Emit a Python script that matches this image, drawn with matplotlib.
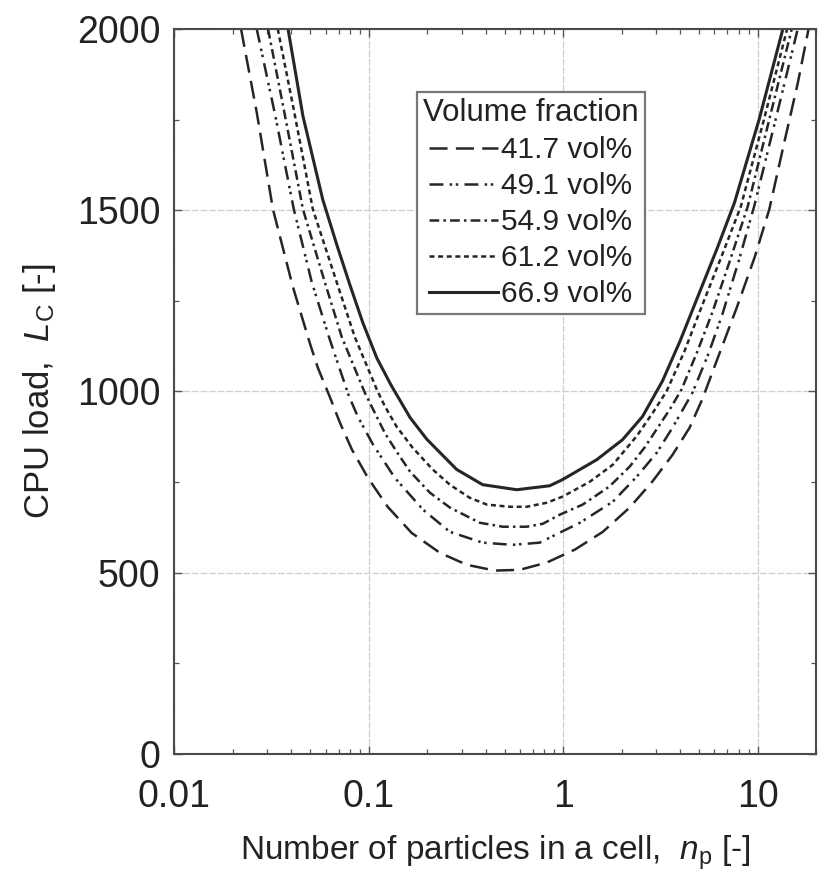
import matplotlib
matplotlib.use("Agg")
import matplotlib.pyplot as plt
from matplotlib.ticker import LogLocator, MultipleLocator, FixedLocator

plt.rcParams['font.family'] = ['Liberation Sans', 'DejaVu Sans']
plt.rcParams['mathtext.fontset'] = 'custom'
plt.rcParams['mathtext.rm'] = 'Liberation Sans'
plt.rcParams['mathtext.it'] = 'Liberation Sans:italic'
plt.rcParams['lines.scale_dashes'] = False

# values
labels = ['41.7 vol%', '49.1 vol%', '54.9 vol%', '61.2 vol%', '66.9 vol%']

n_417 = [0.0220, 0.0265, 0.0321, 0.0406, 0.0453, 0.0498, 0.0547, 0.0630, 0.0710, 0.0818,
         0.0989, 0.125, 0.166, 0.232, 0.319, 0.445, 0.597, 0.822, 1.15, 1.60, 2.20, 2.88,
         3.65, 4.47, 5.21, 6.01, 7.80, 9.66, 11.5, 13.9, 16.1, 18.3]
L_417 = [2000, 1770, 1503, 1290, 1205, 1132, 1065, 985, 914, 840,
         762, 682, 610, 555, 522, 506, 508, 528, 564, 613, 680, 752,
         825, 900, 980, 1069, 1230, 1370, 1503, 1700, 1850, 2000]

n_491 = [0.0265, 0.0329, 0.0411, 0.0509, 0.0630, 0.0789, 0.0877, 0.105, 0.136, 0.190,
         0.261, 0.385, 0.549, 0.757, 0.853, 1.22, 1.80, 2.39, 3.03, 3.66, 4.63, 5.6,
         6.61, 8.0, 9.6, 12.4, 16.1]
L_491 = [2000, 1765, 1503, 1301, 1143, 988, 931, 854, 762, 674,
         613, 583, 577, 583, 597, 638, 696, 765, 831, 901, 997, 1105,
         1215, 1360, 1510, 1751, 2000]

n_549 = [0.0303, 0.0370, 0.0458, 0.0594, 0.0726, 0.0953, 0.121, 0.139, 0.163, 0.206,
         0.261, 0.372, 0.489, 0.649, 0.785, 0.959, 1.26, 1.73, 2.20, 2.62, 3.53, 4.06,
         4.9, 5.87, 7.2, 8.9, 11.5, 15.0]
L_549 = [2000, 1762, 1503, 1301, 1150, 997, 885, 834, 779, 721,
         680, 638, 627, 627, 635, 660, 688, 738, 793, 845, 950, 1005,
         1110, 1220, 1360, 1510, 1751, 2000]

n_612 = [0.0340, 0.0417, 0.0515, 0.0684, 0.0847, 0.110, 0.121, 0.139, 0.168, 0.213,
         0.261, 0.330, 0.405, 0.531, 0.649, 0.822, 0.993, 1.37, 1.80, 2.39, 2.88, 3.40,
         4.2, 5.21, 6.5, 8.2, 10.8, 14.2]
L_612 = [2000, 1760, 1503, 1301, 1150, 1005, 959, 903, 845, 785,
         743, 707, 688, 682, 682, 693, 710, 751, 798, 877, 940, 1000,
         1110, 1240, 1370, 1510, 1751, 2000]

n_669 = [0.0384, 0.0458, 0.0579, 0.0684, 0.0798, 0.0931, 0.110, 0.130, 0.163, 0.199,
         0.283, 0.385, 0.577, 0.853, 0.993, 1.49, 2.02, 2.56, 3.25, 4.0, 5.0, 6.2,
         7.6, 10.2, 13.5]
L_669 = [2000, 1760, 1530, 1405, 1295, 1190, 1092, 1018, 928, 868,
         785, 743, 729, 740, 757, 812, 867, 931, 1030, 1140, 1270, 1395,
         1520, 1751, 2000]

x_ticks = [0.01, 0.1, 1, 10]
x_ticklabels = ['0.01', '0.1', '1', '10']
y_ticks = [0, 500, 1000, 1500, 2000]

ink = '#262626'
styles = [(0, (13, 6)),
          (0, (10, 4.5, 1.8, 2.6, 1.8, 4.5)),
          (0, (7, 3, 1.8, 3)),
          (0, (3.6, 2.6)),
          '-']
widths = [1.8, 1.8, 1.8, 1.8, 2.2]
series = [(n_417, L_417), (n_491, L_491), (n_549, L_549), (n_612, L_612), (n_669, L_669)]

fig = plt.figure(figsize=(8.18, 8.73), dpi=100)
ax = fig.add_axes([0.2133, 0.1363, 0.7843, 0.8305])

for (n, L), lab, ls, lw in zip(series, labels, styles, widths):
    ax.plot(n, L, color=ink, linestyle=ls, linewidth=lw, label=lab)

ax.set_xscale('log')
ax.set_xlim(0.01, 20)
ax.set_ylim(0, 2000)
ax.xaxis.set_major_locator(FixedLocator(x_ticks))
ax.set_xticklabels(x_ticklabels)
ax.xaxis.set_minor_locator(LogLocator(base=10, subs=range(2, 10)))
ax.yaxis.set_major_locator(FixedLocator(y_ticks))
ax.yaxis.set_minor_locator(MultipleLocator(250))

ax.grid(True, which='major', color='#cfcfcf', linewidth=0.9, linestyle=(0, (5, 1.2)))
for s in ax.spines.values():
    s.set_color('#4a4a4a')
    s.set_linewidth(1.5)

ax.tick_params(which='both', direction='in', top=True, right=True, colors='#555555',
               labelcolor='#222222')
ax.tick_params(which='major', length=6, width=1.0, labelsize=27)
ax.tick_params(which='minor', length=3.5, width=0.9)
ax.tick_params(axis='x', which='major', pad=18)
ax.tick_params(axis='y', which='major', pad=10)

ax.set_xlabel('Number of particles in a cell,  $n_\\mathrm{p}$ [-]', fontsize=24,
              color='#222222', labelpad=13)
ax.set_ylabel('CPU load,  $L_\\mathrm{C}$ [-]', fontsize=25, color='#222222', labelpad=14)

leg = ax.legend(loc='upper left', bbox_to_anchor=(0.378, 0.913), borderaxespad=0,
                title='Volume fraction', fontsize=21.5, title_fontsize=22.5,
                handlelength=2.3, handletextpad=0.1, labelspacing=0.27,
                borderpad=0.2, fancybox=False, framealpha=1)
leg.get_frame().set_edgecolor('#777777')
leg.get_frame().set_linewidth(1.6)
for t in leg.get_texts():
    t.set_color('#222222')
leg.get_title().set_color('#222222')

fig.savefig('out.png', dpi=100)
